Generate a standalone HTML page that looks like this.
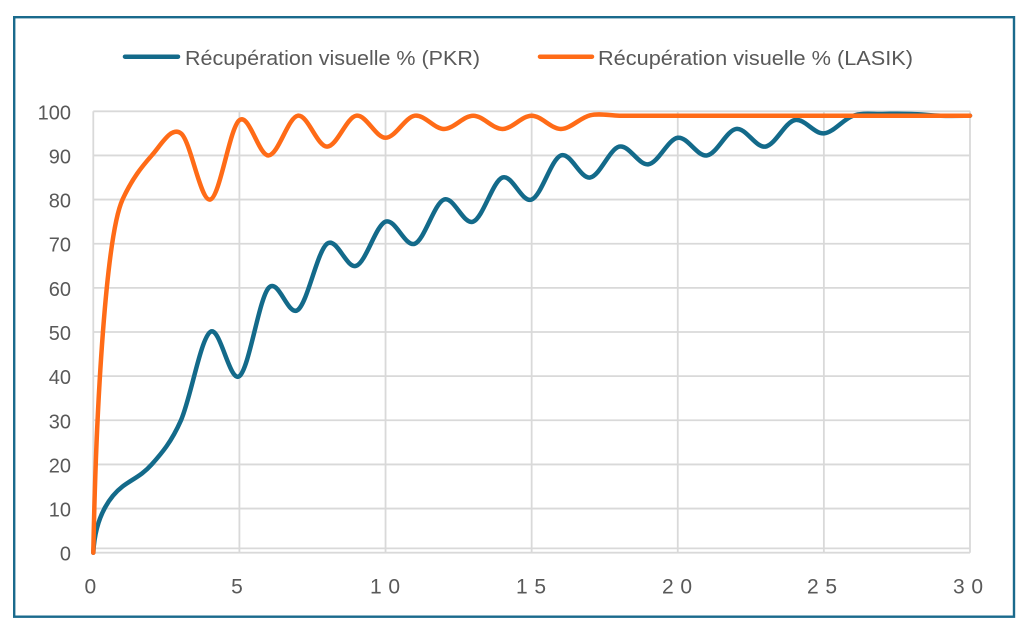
<!DOCTYPE html>
<html><head><meta charset="utf-8">
<style>
html,body{margin:0;padding:0;background:#fff;}
svg{display:block;}
text{font-family:"Liberation Sans",Arial,sans-serif;fill:#595959;}
</style></head><body>
<svg id="c" width="1030" height="636" viewBox="0 0 1030 636" xmlns="http://www.w3.org/2000/svg">
<rect x="0" y="0" width="1030" height="636" fill="#fff"/>
<rect x="14.2" y="17.2" width="999.8" height="599.5" fill="#fff" stroke="#1a6a8c" stroke-width="2.4"/>
<g id="grid" stroke="#d9d9d9" stroke-width="1.8" fill="none"></g>
<line x1="93.3" y1="548.4" x2="970" y2="548.4" stroke="#d9d9d9" stroke-width="1.8"/>

<!-- legend -->
<line x1="125" y1="56.7" x2="178" y2="56.7" stroke="#136a8a" stroke-width="4.5" stroke-linecap="round"/>
<text x="185" y="65" font-size="20" textLength="295" lengthAdjust="spacingAndGlyphs">Récupération visuelle % (PKR)</text>
<line x1="540" y1="56.7" x2="592" y2="56.7" stroke="#ff6b17" stroke-width="4.5" stroke-linecap="round"/>
<text x="598" y="65" font-size="20" textLength="315" lengthAdjust="spacingAndGlyphs">Récupération visuelle % (LASIK)</text>

<!-- y labels -->
<g font-size="20" text-anchor="end">
<text x="71" y="119.3">100</text>
<text x="71" y="163.4">90</text>
<text x="71" y="207.6">80</text>
<text x="71" y="251.7">70</text>
<text x="71" y="295.9">60</text>
<text x="71" y="340">50</text>
<text x="71" y="384.2">40</text>
<text x="71" y="428.3">30</text>
<text x="71" y="472.4">20</text>
<text x="71" y="516.6">10</text>
<text x="71" y="560.7">0</text>
</g>
<!-- x labels -->
<g font-size="21">
<text x="90.3" y="593.3" text-anchor="middle">0</text>
<text x="237" y="593.3" text-anchor="middle">5</text>
<text x="370" y="593.3" textLength="30" lengthAdjust="spacing">10</text>
<text x="516" y="593.3" textLength="30" lengthAdjust="spacing">15</text>
<text x="662" y="593.3" textLength="30" lengthAdjust="spacing">20</text>
<text x="807" y="593.3" textLength="30" lengthAdjust="spacing">25</text>
<text x="953" y="593.3" textLength="30" lengthAdjust="spacing">30</text>
</g>

<path id="pkr" fill="none" stroke="#136a8a" stroke-width="4.5" stroke-linejoin="round" stroke-linecap="round"/>
<path id="lasik" fill="none" stroke="#ff6b17" stroke-width="4.5" stroke-linejoin="round" stroke-linecap="round"/>
</svg>
<script>
(function(){
  function X(t){return 93.3+t*29.223;}
  function Y(v){return 552.7-v*4.414;}
  var g=document.getElementById('grid');
  var ns='http://www.w3.org/2000/svg';
  for(var v=0;v<=100;v+=10){
    var l=document.createElementNS(ns,'line');
    l.setAttribute('x1',93.3);l.setAttribute('x2',970);
    l.setAttribute('y1',Y(v));l.setAttribute('y2',Y(v));
    g.appendChild(l);
  }
  for(var t=0;t<=30;t+=5){
    var l2=document.createElementNS(ns,'line');
    l2.setAttribute('x1',X(t));l2.setAttribute('x2',X(t));
    l2.setAttribute('y1',Y(100));l2.setAttribute('y2',Y(0));
    g.appendChild(l2);
  }
  function P(a){return X(a[0]).toFixed(2)+','+Y(a[1]).toFixed(2);}
  function cat(pts,phantom){
    var p=pts.map(function(a){return [X(a[0]),Y(a[1])];});
    var ph=[X(phantom[0]),Y(phantom[1])];
    var d='';
    for(var i=0;i<p.length-1;i++){
      var p0=(i===0?ph:p[i-1]),p1=p[i],p2=p[i+1],p3=p[i+2]||p[i+1];
      var c1x=p1[0]+(p2[0]-p0[0])/6,c1y=p1[1]+(p2[1]-p0[1])/6;
      var c2x=p2[0]-(p3[0]-p1[0])/6,c2y=p2[1]-(p3[1]-p1[1])/6;
      d+=' C'+c1x.toFixed(2)+','+c1y.toFixed(2)+' '+c2x.toFixed(2)+','+c2y.toFixed(2)+' '+p2[0].toFixed(2)+','+p2[1].toFixed(2);
    }
    return d;
  }
  // PKR
  var pkr=[[1,15],[2,20],[3,30],[4,50],[5,40],[6,60],[7,55],[8,70],[9,65],[10,75],[11,70],[12,80],[13,75],[14,85],[15,80],[16,90],[17,85],[18,92],[19,88],[20,94],[21,90],[22,96],[23,92],[24,98],[25,95],[26,99],[27,99.4],[28,99.4],[29,99],[30,99]];
  var dp='M'+P([0,0])+' C'+P([0.07,9])+' '+P([0.667,13.3])+' '+P([1,15])+cat(pkr,[0,10]);
  // LASIK
  var lasik=[[1,80],[2,90],[3,95],[4,80],[5,98],[6,90],[7,99],[8,92],[9,99],[10,94],[11,99],[12,96],[13,99],[14,96],[15,99],[16,96],[17,99.1]];
  for(var k=18;k<=30;k++)lasik.push([k,99]);
  var dl='M'+P([0,0])+' C'+P([0.1,35])+' '+P([0.45,72])+' '+P([1,80])+cat(lasik,[0,61]);
  document.getElementById('pkr').setAttribute('d',dp);
  document.getElementById('lasik').setAttribute('d',dl);
})();
</script>
</body></html>
